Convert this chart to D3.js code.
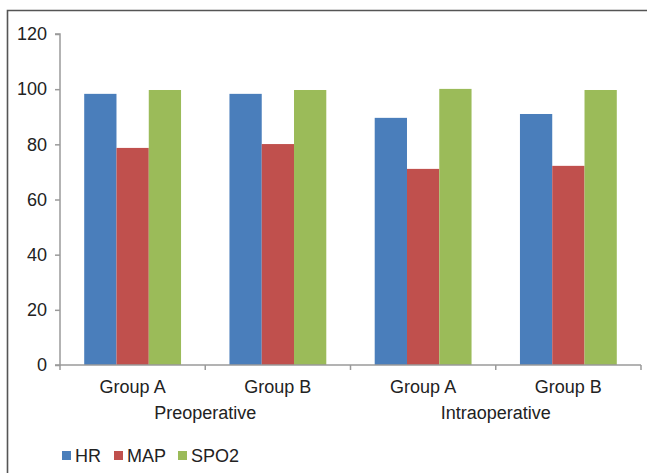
<!DOCTYPE html>
<html>
<head>
<meta charset="utf-8">
<script src="https://cdn.jsdelivr.net/npm/d3@7"></script>
<style>
  html, body { margin: 0; padding: 0; background: #fff; }
  svg { display: block; font-family: "Liberation Sans", Arial, sans-serif; }
</style>
</head>
<body>
<svg id="chart" width="647" height="473"></svg>
<script>
// Vital signs by group and period
const groups = ["Group A", "Group B", "Group A", "Group B"];
const periods = ["Preoperative", "Intraoperative"];
const seriesNames = ["HR", "MAP", "SPO2"];
const hrValues = [98.3, 98.3, 89.6, 91.0];
const mapValues = [78.7, 80.1, 71.1, 72.2];
const spo2Values = [99.7, 99.7, 100.1, 99.7];
const yTicks = [0, 20, 40, 60, 80, 100, 120];
const colors = ["#4A7EBB", "#C0504D", "#9BBB59"];

const seriesValues = [hrValues, mapValues, spo2Values];
const fontSize = 18;
const textColor = "#222";

const svg = d3.select("#chart");
const plotLeft = 60, plotRight = 641, plotTop = 34, plotBottom = 365;

// outer frame
svg.append("path")
  .attr("d", `M7.5,480 L7.5,10.5 L660,10.5`)
  .attr("fill", "none").attr("stroke", "#555").attr("stroke-width", 1.6);

const x0 = d3.scaleBand().domain(d3.range(groups.length)).range([plotLeft, plotRight]).paddingInner(0).paddingOuter(0);
const x1 = d3.scaleBand().domain(d3.range(seriesNames.length)).range([0, x0.bandwidth()]).paddingOuter(0.75).paddingInner(0);
const y = d3.scaleLinear().domain([0, 120]).range([plotBottom, plotTop]);

// bars
const g = svg.append("g");
groups.forEach((grp, i) => {
  seriesNames.forEach((s, j) => {
    const v = seriesValues[j][i];
    g.append("rect")
      .attr("x", x0(i) + x1(j))
      .attr("y", y(v))
      .attr("width", x1.bandwidth())
      .attr("height", y(0) - y(v))
      .attr("fill", colors[j]);
  });
});

// y axis
const yAxis = d3.axisLeft(y).tickValues(yTicks).tickSize(5).tickPadding(8);
const ya = svg.append("g").attr("transform", `translate(${plotLeft},0)`).call(yAxis);
ya.select(".domain").attr("stroke", "#9a9a9a").attr("stroke-width", 1.5).attr("d", `M-5,${plotTop}H0V${plotBottom}H-5`);
ya.selectAll(".tick line").attr("stroke", "#9a9a9a").attr("stroke-width", 1.5);
ya.selectAll(".tick text").attr("font-size", fontSize).attr("fill", textColor)
  .attr("font-family", "Liberation Sans, Arial, sans-serif");

// x axis line with boundary ticks
const xa = svg.append("g");
xa.append("line").attr("x1", plotLeft).attr("x2", plotRight).attr("y1", plotBottom).attr("y2", plotBottom)
  .attr("stroke", "#9a9a9a").attr("stroke-width", 1.5);
d3.range(groups.length + 1).forEach(k => {
  const xx = k < groups.length ? x0(k) : plotRight;
  xa.append("line").attr("x1", xx).attr("x2", xx).attr("y1", plotBottom).attr("y2", plotBottom + 5)
    .attr("stroke", "#9a9a9a").attr("stroke-width", 1.5);
});

// category labels
groups.forEach((grp, i) => {
  svg.append("text")
    .attr("x", x0(i) + x0.bandwidth() / 2)
    .attr("y", 393)
    .attr("text-anchor", "middle")
    .attr("font-size", fontSize).attr("fill", textColor)
    .text(grp);
});
periods.forEach((p, k) => {
  svg.append("text")
    .attr("x", x0(k * 2) + x0.bandwidth())
    .attr("y", 419)
    .attr("text-anchor", "middle")
    .attr("font-size", fontSize).attr("fill", textColor)
    .text(p);
});

// legend
const legendX = [62, 114, 178];
seriesNames.forEach((s, j) => {
  svg.append("rect").attr("x", legendX[j]).attr("y", 451).attr("width", 9).attr("height", 9).attr("fill", colors[j]);
  svg.append("text").attr("x", legendX[j] + 13).attr("y", 462)
    .attr("font-size", fontSize).attr("fill", textColor).text(s);
});
</script>
</body>
</html>
